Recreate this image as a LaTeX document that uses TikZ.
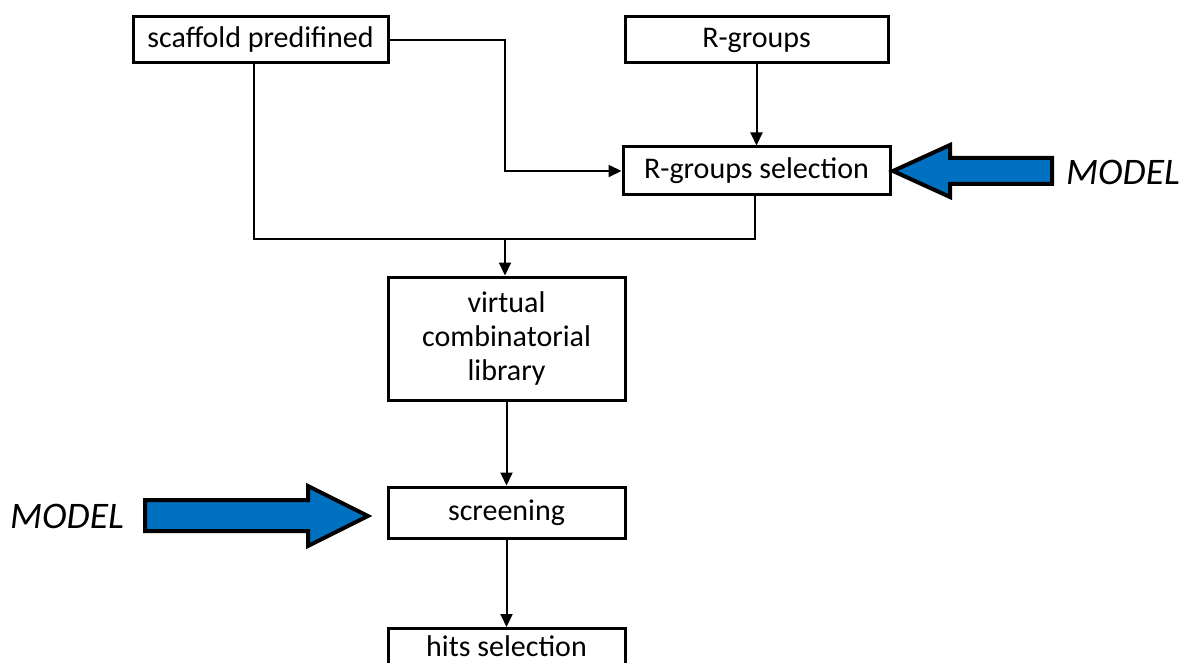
\documentclass[tikz,border=0pt]{standalone}
\usepackage{fontspec}
\setmainfont{Carlito}
\usetikzlibrary{arrows.meta}
\begin{document}
\begin{tikzpicture}[x=1pt,y=-1pt,
  box/.style={draw=black,line width=3pt,fill=white,inner sep=0pt,font=\fontsize{30}{34}\selectfont,align=center},
  conn/.style={line width=2pt},
  arr/.style={conn,-{Triangle[length=13pt,width=12pt]}},
  bigarrow/.style={draw=black,line width=4pt,fill=blueA,line join=miter},
  model/.style={font=\fontsize{37.5}{42}\selectfont\itshape,inner sep=0pt}]
\definecolor{blueA}{HTML}{0070C0}
\useasboundingbox (0,0) rectangle (1183,663);
\clip (0,0) rectangle (1183,663);
\node[box,minimum width=255pt,minimum height=46pt] (scaf) at (260.5,40) {scaffold predifined};
\node[box,minimum width=263pt,minimum height=46pt] (rg) at (756.5,40) {R-groups};
\node[box,minimum width=267pt,minimum height=48pt] (rgs) at (756.5,171) {R-groups selection};
\node[box,minimum width=237pt,minimum height=123pt] (vcl) at (506.5,338.5) {virtual\\combinatorial\\library};
\node[box,minimum width=237pt,minimum height=51pt] (scr) at (506.5,512.5) {screening};
\node[box,minimum width=237pt,minimum height=40pt,text depth=5pt,anchor=north] (hits) at (506.5,627) {hits selection};
\coordinate (j1) at (505,40);
\coordinate (j2) at (505,239);
\draw[arr] (scaf.east) -- (j1) |- (rgs.west);
\draw[arr] (rg.south) -- (rgs.north);
\draw[conn] ([xshift=-7pt]scaf.south) |- (j2);
\draw[conn] ([xshift=-1.5pt]rgs.south) |- (j2);
\draw[arr] (j2) -- (vcl.north -| j2);
\draw[arr] (vcl.south) -- (scr.north);
\draw[arr] (scr.south) -- (hits.north);
% big blue arrows
\draw[bigarrow] (893,171) -- (950,145) -- (950,158) -- (1052,158) -- (1052,184) -- (950,184) -- (950,197) -- cycle;
\draw[bigarrow] (368,516) -- (308,486) -- (308,500) -- (145,500) -- (145,531) -- (308,531) -- (308,546) -- cycle;
\node[model] (m1) at (1123,172) {MODEL};
\node[model] (m2) at (67,516) {MODEL};
\end{tikzpicture}
\end{document}
